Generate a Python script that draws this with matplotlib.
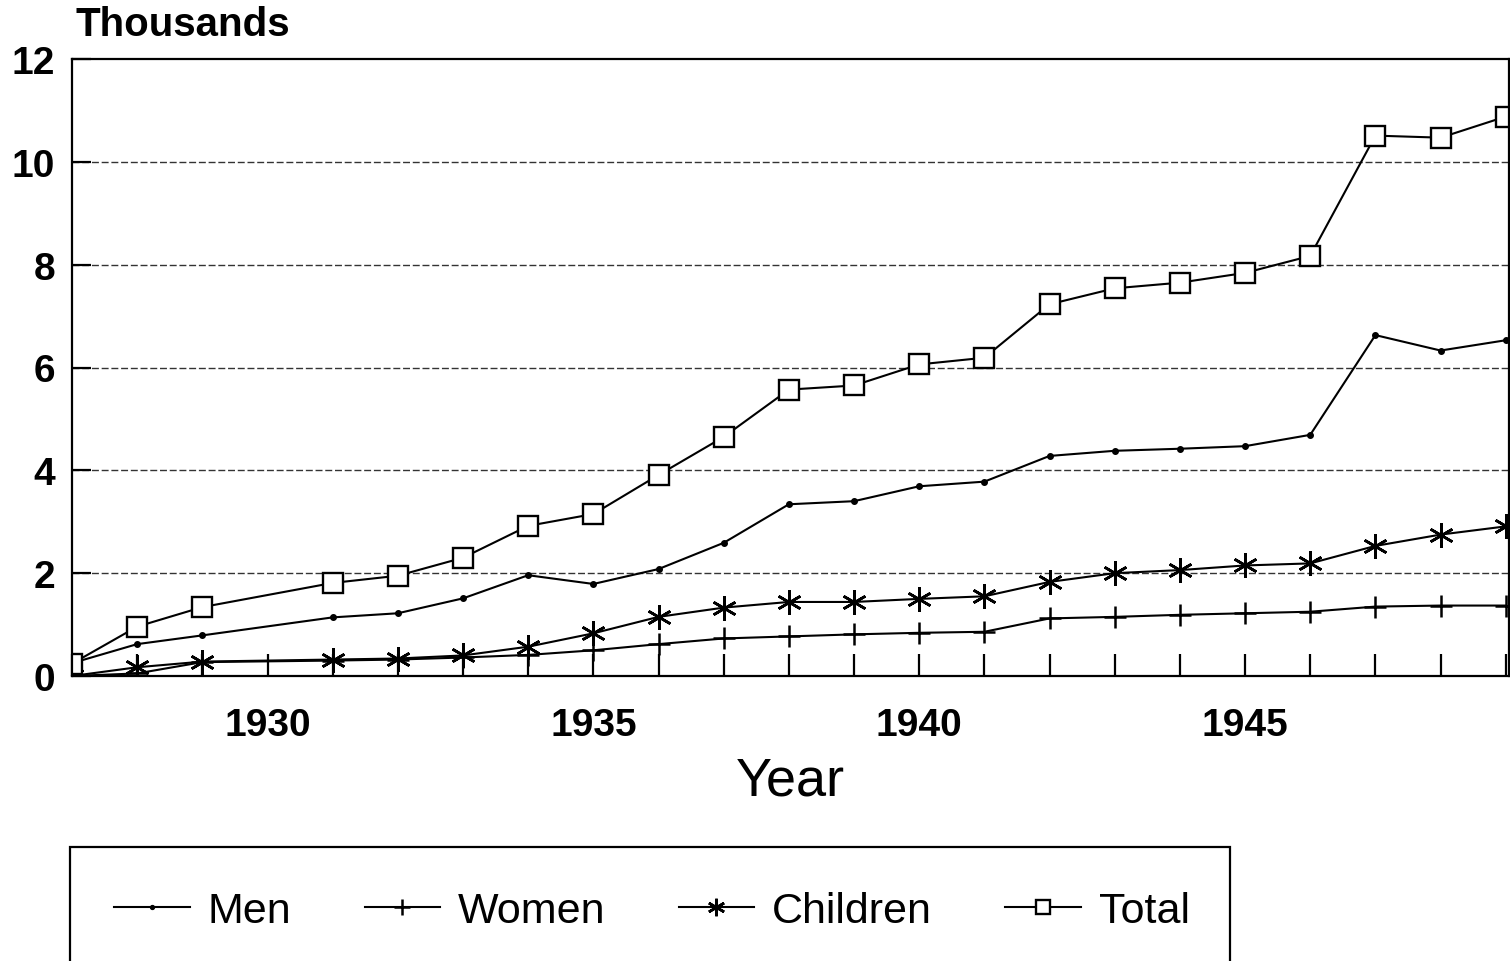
import matplotlib
matplotlib.use("Agg")
import matplotlib.pyplot as plt
from matplotlib.patches import Rectangle

plt.rcParams['font.family'] = ['Liberation Sans', 'DejaVu Sans']

# no markers at 1930 in the source chart
years = [1927, 1928, 1929, 1931, 1932, 1933, 1934, 1935, 1936, 1937, 1938,
         1939, 1940, 1941, 1942, 1943, 1944, 1945, 1946, 1947, 1948, 1949]
men = [0.25, 0.62, 0.79, 1.14, 1.22, 1.51, 1.96, 1.79, 2.08, 2.59, 3.34,
       3.40, 3.69, 3.78, 4.28, 4.38, 4.42, 4.47, 4.69, 6.63, 6.33, 6.53]
women = [0.0, 0.05, 0.27, 0.30, 0.32, 0.36, 0.41, 0.50, 0.62, 0.73, 0.77,
         0.81, 0.84, 0.86, 1.12, 1.15, 1.19, 1.22, 1.25, 1.35, 1.37, 1.37]
children = [0.0, 0.17, 0.28, 0.32, 0.34, 0.40, 0.57, 0.83, 1.15, 1.33, 1.44,
            1.44, 1.50, 1.55, 1.83, 2.00, 2.06, 2.15, 2.19, 2.53, 2.75, 2.91]
total = [0.24, 0.96, 1.34, 1.81, 1.95, 2.30, 2.92, 3.15, 3.91, 4.65, 5.57,
         5.65, 6.06, 6.19, 7.23, 7.54, 7.65, 7.84, 8.17, 10.51, 10.47, 10.88]

year_ticks = list(range(1927, 1950))
year_labels = [str(y) if y % 5 == 0 else '' for y in year_ticks]
y_ticks = [0, 2, 4, 6, 8, 10, 12]

fig = plt.figure(figsize=(15.1, 9.62), dpi=100)
ax = fig.add_axes([72 / 1510, 1 - 677 / 962, 1437 / 1510, 617 / 962])

lw = 1.5
ax.plot(years, men, color='black', lw=lw, marker='o', ms=4, label='Men')
ax.plot(years, women, color='black', lw=lw, marker='+', ms=16, mew=1.8, label='Women')
ax.plot(years, children, color='black', lw=lw, marker=(6, 2, 0), ms=18, mew=1.9,
        label='Children')
ax.plot(years, total, color='black', lw=lw, marker='s', ms=14, mfc='white', mew=1.7,
        label='Total')

ax.set_xlim(1927, 1949.05)
ax.set_ylim(0, 12)
ax.set_xticks(year_ticks)
ax.set_xticklabels(year_labels)
ax.set_yticks(y_ticks)
for y in y_ticks[1:-1]:
    ax.axhline(y, color='#333333', lw=1, ls=(0, (5, 2)), zorder=0)

for s in ax.spines.values():
    s.set_linewidth(1.6)
ax.tick_params(axis='x', direction='in', length=16, width=1.6, pad=22,
               labelsize=28)
ax.tick_params(axis='y', direction='in', length=14, width=1.6, pad=12,
               labelsize=28)
for t in ax.get_xticklabels() + ax.get_yticklabels():
    t.set_fontweight('bold')

fig.text(75 / 1510, 1 - 25 / 962, 'Thousands', fontsize=29, fontweight='bold',
         ha='left', va='center')
fig.text(790 / 1510, 1 - 782 / 962, 'Year', fontsize=39, ha='center', va='center')

fig.patches.append(Rectangle((70 / 1510, -0.05), 1160 / 1510, 0.05 + 1 - 848 / 962,
                             transform=fig.transFigure, fill=False, lw=1.6,
                             edgecolor='black'))
leg = fig.legend(loc='center', bbox_to_anchor=(652 / 1510, 1 - 912 / 962), ncol=4,
                 frameon=False, fontsize=31, handlelength=1.75, handletextpad=0.42,
                 columnspacing=1.7, markerscale=0.7)

fig.savefig('out.png', dpi=100)
